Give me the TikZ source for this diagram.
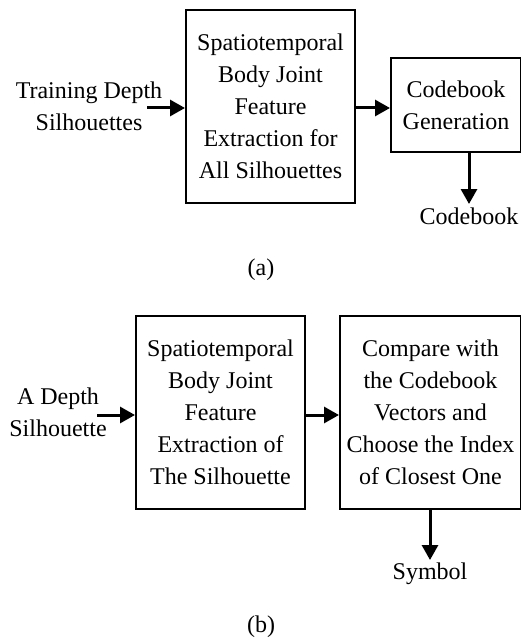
\documentclass[tikz,border=0pt]{standalone}
\usepackage{fontspec}
\setmainfont{Liberation Serif}
\usetikzlibrary{arrows.meta}
\begin{document}
\begin{tikzpicture}[x=1pt,y=-1pt,
  txt/.style={font=\fontsize{24}{32}\selectfont, align=center, inner sep=0pt},
  blk/.style={draw, line width=2pt, txt, anchor=north west},
  arr/.style={line width=3pt, -{Triangle[length=15pt,width=16pt]}}]
\useasboundingbox (0,0) rectangle (521,639);
% (a)
\node[blk, minimum width=169pt, minimum height=193pt] (a1) at (185,9) {Spatiotemporal\\Body Joint\\Feature\\Extraction for\\All Silhouettes};
\node[blk, minimum width=130pt, minimum height=94pt] (a2) at (390,57) {Codebook\\Generation};
\node[txt] (ain) at (89,106) {Training Depth\\Silhouettes};
\coordinate (ainx) at (147,108);
\node[txt, anchor=north] (aout) at (469,208) {Codebook};
\node[txt] (la) at (261,270) {(a)};
\draw[arr] (ainx) -- (a1.west |- ainx);
\draw[arr] (a1.east |- ainx) -- (a2.west |- ainx);
\draw[arr] (a2.south -| aout.north) -- ([yshift=4pt]aout.north);
% (b)
\node[blk, minimum width=169pt, minimum height=193pt] (b1) at (135,315) {Spatiotemporal\\Body Joint\\Feature\\Extraction of\\The Silhouette};
\node[blk, minimum width=181pt, minimum height=193pt] (b2) at (339,315) {Compare with\\the Codebook\\Vectors and\\Choose the Index\\of Closest One};
\node[txt] (bin) at (58,412) {A Depth\\Silhouette};
\coordinate (binx) at (97,415);
\node[txt, anchor=north] (bout) at (430,563) {Symbol};
\node[txt] (lb) at (261,627) {(b)};
\draw[arr] (binx) -- (b1.west |- binx);
\draw[arr] (b1.east |- binx) -- (b2.west |- binx);
\draw[arr] (b2.south -| bout.north) -- ([yshift=3pt]bout.north);
\end{tikzpicture}
\end{document}
